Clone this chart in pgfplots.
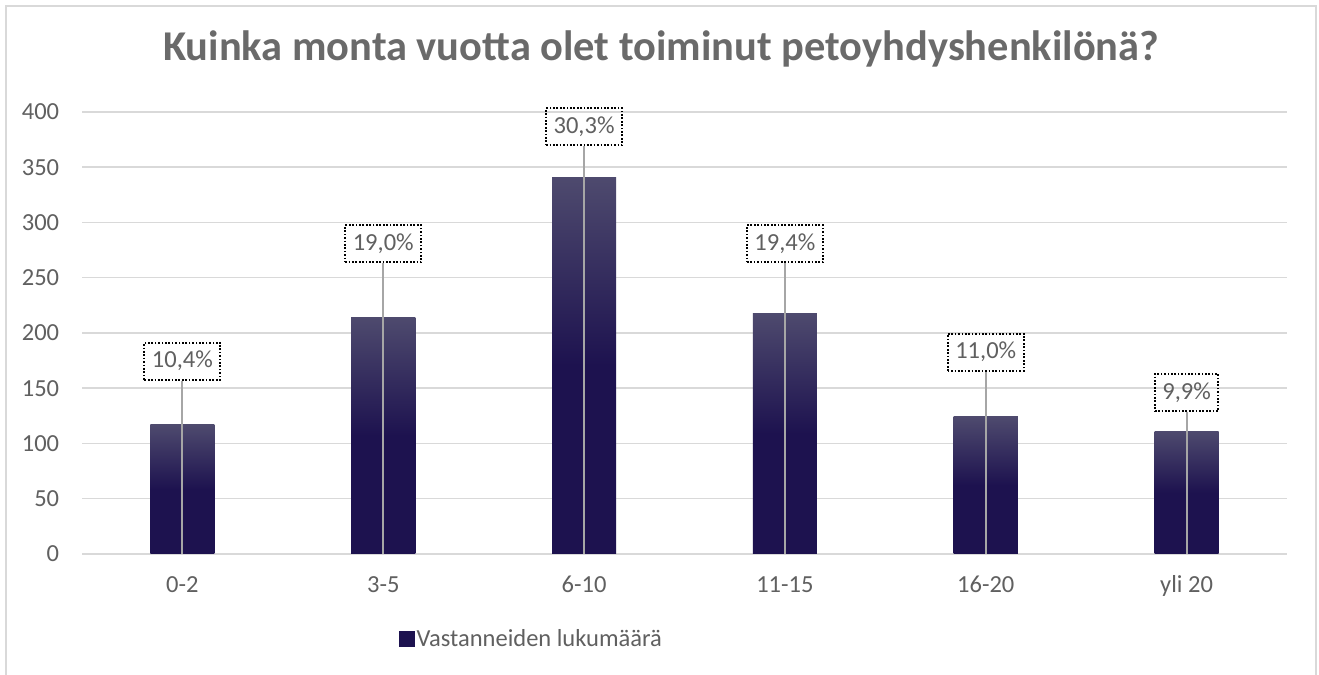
\documentclass[border=0pt]{standalone}
\usepackage{fontspec}
\setmainfont{Carlito}
\usepackage{pgfplots}
\pgfplotsset{compat=1.18}
\usepackage{pgfplotstable}
\definecolor{textgray}{HTML}{606060}
\definecolor{titlegray}{HTML}{6A6A6A}
\definecolor{gridgray}{HTML}{D9D9D9}
\definecolor{framegray}{HTML}{D9D9D9}
\definecolor{leadgray}{HTML}{A6A6A6}
\definecolor{bardark}{HTML}{1D124F}
\definecolor{barlight}{HTML}{4E4A6E}
\pgfdeclareverticalshading{barshade}{100bp}{color(0bp)=(bardark); color(25bp)=(bardark); color(50bp)=(bardark); color(75bp)=(barlight); color(100bp)=(barlight)}
\pgfplotstableread{
x y ly pct
0 117 157 10.4
1 214 263 19.0
2 341 369 30.3
3 218 263 19.4
4 124 165 11.0
5 111 128.5 9.9
}\data
\begin{document}
\begin{tikzpicture}
\useasboundingbox (0,0) rectangle (1319bp,675bp);
\fill[white] (0,0) rectangle (1319bp,675bp);
\draw[framegray, line width=2bp] (6bp,-10bp) -- (6bp,669bp) -- (1316bp,669bp) -- (1316bp,-10bp);
\begin{axis}[
  at={(82bp,121bp)}, anchor=south west,
  scale only axis, width=1205bp, height=442bp,
  /pgf/number format/assume math mode=true,
  xmin=-0.5, xmax=5.5, ymin=0, ymax=400,
  xtick={0,...,5},
  xticklabels={0-2,3-5,6-10,11-15,16-20,yli 20},
  ytick={0,50,...,400},
  axis line style={draw=none},
  major tick length=0pt,
  ymajorgrids, grid style={gridgray, line width=1.5bp},
  tick label style={font=\fontsize{24.6}{28}\selectfont, text=textgray},
  yticklabel style={anchor=east, inner sep=0pt, xshift=-22.7bp},
  xticklabel style={anchor=base, inner sep=0pt, yshift=-39bp},
  title={Kuinka monta vuotta olet toiminut petoyhdyshenkilönä?},
  title style={at={(0.4805,1)}, anchor=base, yshift=45.3bp, font=\bfseries\fontsize{42.6}{48}\selectfont, text=titlegray},
  legend style={at={(0.2631,-0.1923)}, anchor=west, draw=none, fill=none, inner sep=0pt,
    font=\fontsize{24.6}{28}\selectfont, text=textgray},
  legend cell align=left,
  clip=false,
]
\addlegendimage{legend image code/.code={\fill[bardark] (0bp,-7.5bp) rectangle (15bp,7.5bp);}}
\addlegendentry{Vastanneiden lukumäärä}
\pgfplotsinvokeforeach{0,...,5}{
\addplot[ybar, bar width=64bp, draw=none, shade, shading=barshade, forget plot,
  restrict x to domain=#1:#1]
  table[x=x, y=y] {\data};
}
\addplot[ycomb, leadgray, line width=2bp, mark=none, forget plot,
  point meta=explicit,
  nodes near coords={\pgfmathprintnumber[fixed, fixed zerofill, precision=1, use comma]{\pgfplotspointmeta}\%},
  every node near coord/.append style={anchor=south, draw=black, line width=2bp,
    dash pattern=on 1.7bp off 1.7bp, inner xsep=7.5bp, inner ysep=0pt, minimum height=37bp,
    text=textgray, font=\fontsize{24.6}{28}\selectfont, fill=none}]
  table[x=x, y=ly, meta=pct] {\data};
\end{axis}
\end{tikzpicture}
\end{document}
